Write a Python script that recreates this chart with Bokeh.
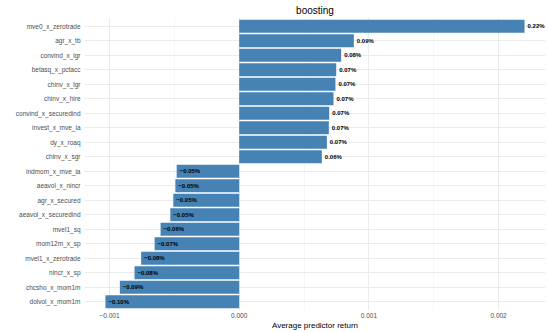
from bokeh.plotting import figure
from bokeh.models import Range1d, FactorRange, FixedTicker, CustomJSTickFormatter, ColumnDataSource
from bokeh.core.properties import value
from bokeh.embed import file_html
from bokeh.resources import INLINE

# Data (top to bottom as shown)
predictors = [
    "mve0_x_zerotrade", "agr_x_tb", "convind_x_lgr", "betasq_x_pctacc", "chinv_x_lgr",
    "chinv_x_hire", "convind_x_securedind", "invest_x_mve_ia", "dy_x_roaq", "chinv_x_sgr",
    "indmom_x_mve_ia", "aeavol_x_nincr", "agr_x_secured", "aeavol_x_securedind", "mvel1_sq",
    "mom12m_x_sp", "mvel1_x_zerotrade", "nincr_x_sp", "chcsho_x_mom1m", "dolvol_x_mom1m",
]
returns = [
    0.00220, 0.000884, 0.000786, 0.000748, 0.000742,
    0.000727, 0.000694, 0.000691, 0.000676, 0.000637,
    -0.000482, -0.000492, -0.000508, -0.000531, -0.000606,
    -0.000652, -0.000756, -0.000807, -0.000920, -0.001031,
]
x_ticks = [-0.001, 0.0, 0.001, 0.002]
x_minor = [-0.0005, 0.0005, 0.0015]

labels = [("\u2212" if v < 0 else "") + f"{abs(v) * 100:.2f}%" for v in returns]
src = ColumnDataSource(dict(pred=predictors, ret=returns, lab=labels))

lo, hi = min(returns), max(returns)
pad = (hi - lo) * 0.05
font = "Liberation Sans"

p = figure(
    width=548, height=332, output_backend="svg", toolbar_location=None,
    x_range=Range1d(lo - pad, hi + pad),
    y_range=FactorRange(factors=predictors[::-1], range_padding=0.1, range_padding_units="absolute"),
    min_border_left=84, min_border_right=3, min_border_top=0, min_border_bottom=0,
    title="boosting",
)
p.outline_line_color = None
p.background_fill_color = "white"

p.hbar(y="pred", right="ret", left=0, height=0.9, source=src,
       fill_color="#4682B4", line_color=None)
p.text(x="ret", y="pred", text="lab", source=src, x_offset=3,
       text_align="left", text_baseline="middle", text_font=value(font),
       text_font_size="6px", text_font_style="bold", text_color="black")

# title
p.title.text_font = font
p.title.text_font_size = "10px"
p.title.text_font_style = "normal"
p.title.align = "center"
p.title.text_color = "black"
p.title.standoff = 4
p.title.offset = 0

# x axis
p.xaxis.ticker = FixedTicker(ticks=x_ticks, minor_ticks=x_minor)
p.xaxis.formatter = CustomJSTickFormatter(
    code="return (tick < 0 ? '\u2212' : '') + Math.abs(tick).toFixed(3);")
p.xaxis.axis_label = "Average predictor return"
p.xaxis.axis_label_text_font = font
p.xaxis.axis_label_text_font_size = "8px"
p.xaxis.axis_label_text_font_style = "normal"
p.xaxis.axis_label_text_color = "black"
p.xaxis.axis_label_standoff = 0

for ax in (p.xaxis, p.yaxis):
    ax.axis_line_color = None
    ax.major_tick_line_color = None
    ax.minor_tick_line_color = None
    ax.major_tick_out = 0
    ax.minor_tick_out = 0
    ax.major_label_text_font = font
    ax.major_label_text_font_size = "6.5px"
    ax.major_label_text_color = "#4D4D4D"
p.xaxis.major_label_standoff = 2
p.yaxis.major_label_standoff = 4

# grids
p.xgrid.grid_line_color = "#EBEBEB"
p.xgrid.grid_line_width = 1
p.xgrid.minor_grid_line_color = "#F2F2F2"
p.xgrid.minor_grid_line_width = 0.6
p.ygrid.grid_line_color = "#EBEBEB"
p.ygrid.grid_line_width = 1

open("out.html", "w").write(file_html(p, INLINE))
